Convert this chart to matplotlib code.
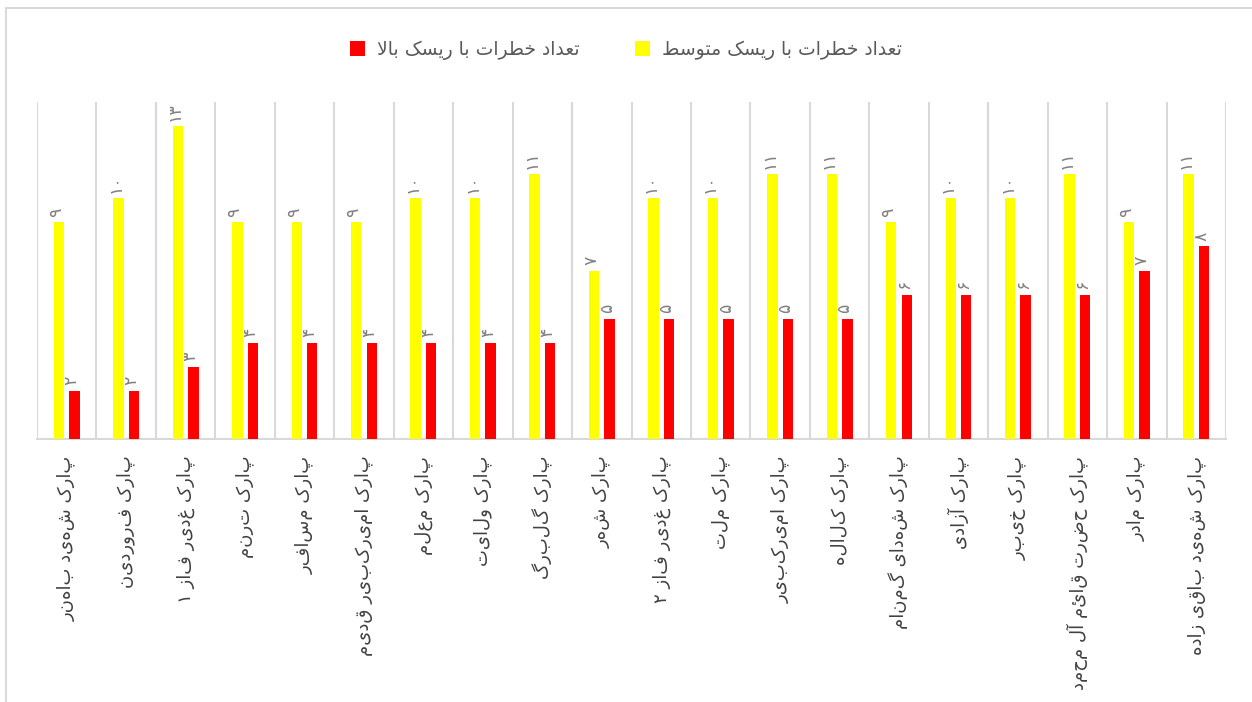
import matplotlib as mpl
mpl.use('Agg')
import matplotlib.pyplot as plt
from matplotlib.patches import Rectangle
import numpy as np

# park names (logical order)
parks = ['پارک شهید باهنر', 'پارک فروردین', 'پارک غدیر فاز ۱', 'پارک ترنم',
         'پارک مسافر', 'پارک امیرکبیر قدیم', 'پارک معلم', 'پارک ولایت',
         'پارک گلبرگ', 'پارک شهر', 'پارک غدیر فاز ۲', 'پارک ملت',
         'پارک امیرکبیر', 'پارک کلاله', 'پارک شهدای گمنام', 'پارک آزادی',
         'پارک خیبر', 'پارک حضرت قائم آل محمد', 'پارک مادر', 'پارک شهید باقی زاده']
medium = [9, 10, 13, 9, 9, 9, 10, 10, 11, 7, 10, 10, 11, 11, 9, 10, 10, 11, 9, 11]
high = [2, 2, 3, 4, 4, 4, 4, 4, 4, 5, 5, 5, 5, 5, 6, 6, 6, 6, 7, 8]

# legend labels, shaped presentation forms in visual order
# "تعداد خطرات با ریسک متوسط" / "تعداد خطرات با ریسک بالا"
lab_medium = ('\ufec2\ufeb3\ufeee\ufe98\ufee3 \ufb8f\ufeb4\ufbfe\ufead \ufe8e\ufe91 '
              '\ufe95\ufe8d\ufeae\ufec4\ufea7 \ufea9\ufe8d\ufeaa\ufecc\ufe97')
lab_high = ('\ufefb\ufe8e\ufe91 \ufb8f\ufeb4\ufbfe\ufead \ufe8e\ufe91 '
            '\ufe95\ufe8d\ufeae\ufec4\ufea7 \ufea9\ufe8d\ufeaa\ufecc\ufe97')

fa_digits = str.maketrans('0123456789', '۰۱۲۳۴۵۶۷۸۹')

plt.rcParams['font.family'] = ['DejaVu Sans']

fig = plt.figure(figsize=(12.52, 7.02), dpi=100)
ax = fig.add_axes([37/1252, 1-439/702, (1226-37)/1252, (439-102)/702])

x = np.arange(len(parks))
w = 0.175
b1 = ax.bar(x-0.13, medium, w, color='#FFFF00', label=lab_medium, zorder=3)
b2 = ax.bar(x+0.13, high, w, color='#FF0000', label=lab_high, zorder=3)

for bars, vals in ((b1, medium), (b2, high)):
    for r, v in zip(bars, vals):
        ax.annotate(str(v).translate(fa_digits), (r.get_x()+r.get_width()/2, v),
                    xytext=(-2, 4), textcoords='offset points', rotation=90,
                    ha='center', va='bottom', fontsize=12.5, color='#808080')

ax.set_xlim(-0.5, len(parks)-0.5)
ax.set_ylim(0, 14)
ax.set_yticks([])
ax.set_xticks(x)
# labels drawn right-to-left, unshaped, then turned
ax.set_xticklabels([p[::-1] for p in parks], rotation=90, fontsize=13, color='#404040')
ax.tick_params(axis='x', length=0, pad=12)
ax.set_xticks(np.arange(-0.5, len(parks)), minor=True)
ax.tick_params(axis='x', which='minor', length=0)
ax.grid(axis='x', which='minor', color='#d9d9d9', lw=1.5, zorder=0)
for s in ('top', 'left', 'right'):
    ax.spines[s].set_visible(False)
ax.spines['bottom'].set_color('#d9d9d9')
ax.spines['bottom'].set_linewidth(1.5)

handles = [b2, b1]
leg = fig.legend(handles, [lab_high, lab_medium], loc='center', ncol=2,
                 bbox_to_anchor=(0.5, 1-50/702), frameon=False, fontsize=13.5,
                 handlelength=0.8, handleheight=0.8, columnspacing=3, handletextpad=0.6)
for t in leg.get_texts():
    t.set_color('#595959')

fig.patches.append(Rectangle((6/1252, -0.1), 2, 1.1-8/702, transform=fig.transFigure,
                             fill=False, edgecolor='#d9d9d9', lw=1.5))

fig.savefig('out.png', dpi=100)
